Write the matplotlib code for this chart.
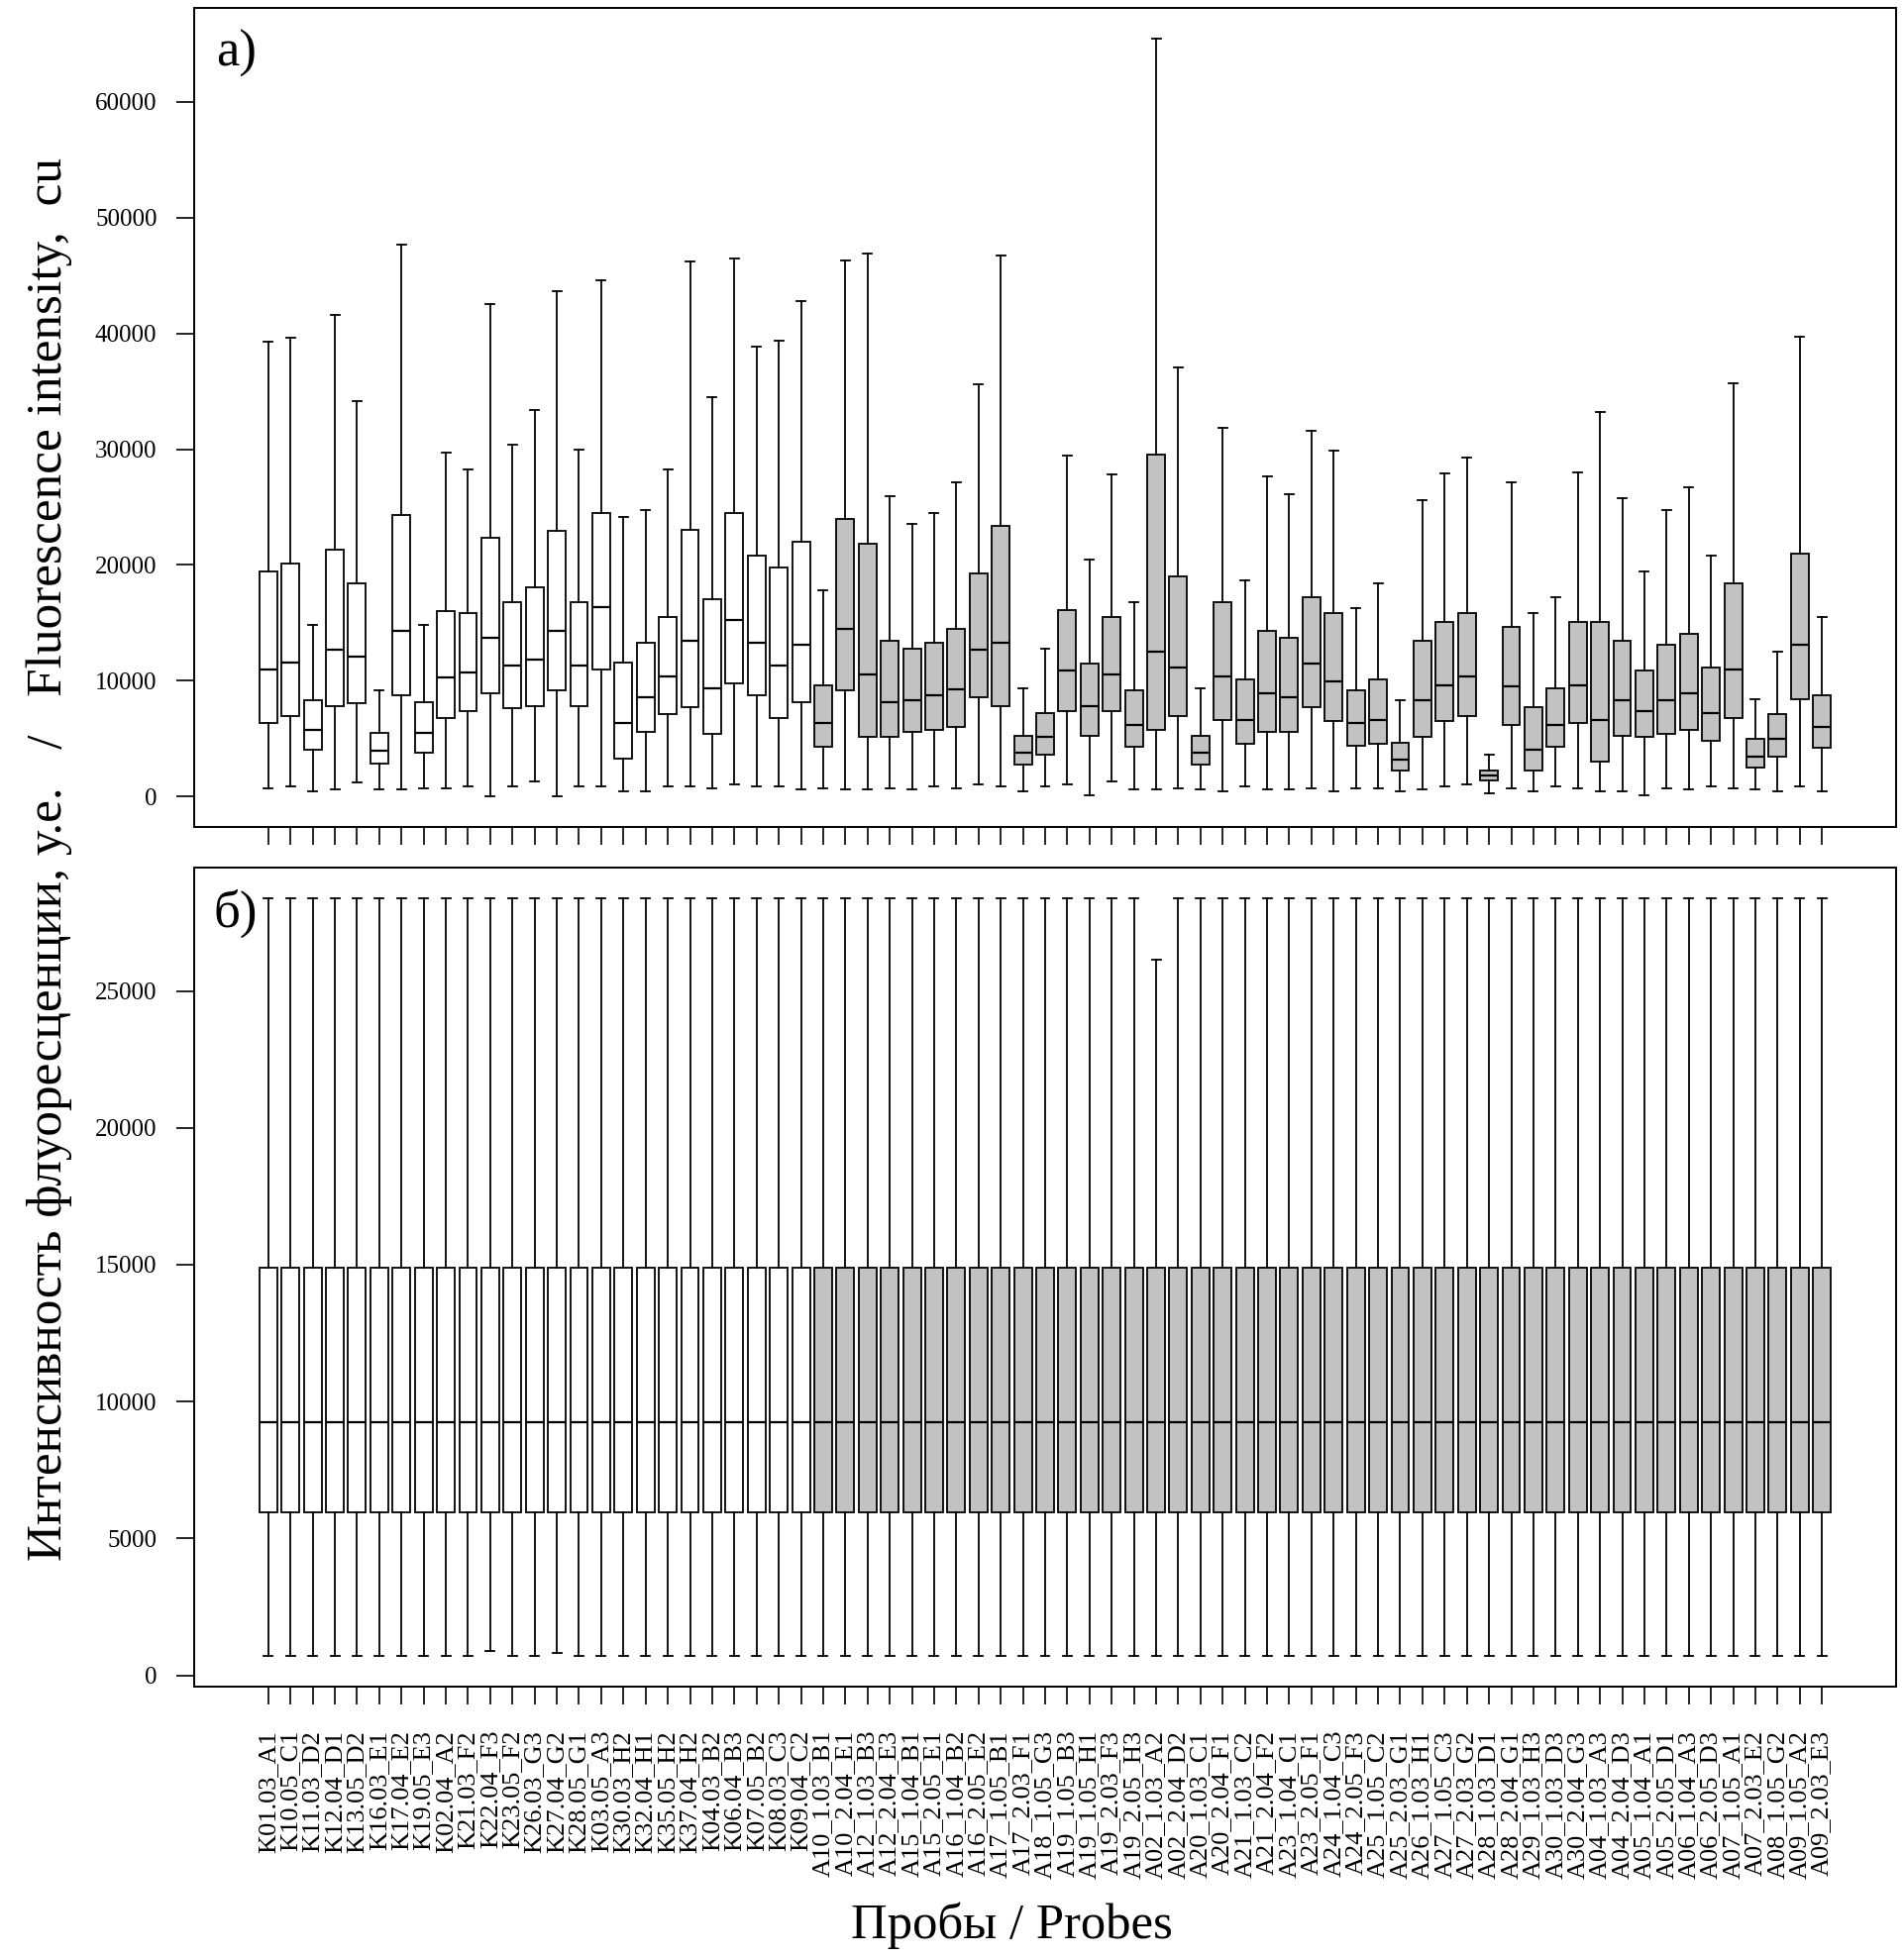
import matplotlib
matplotlib.use("Agg")
import matplotlib.pyplot as plt

plt.rcParams['font.family'] = ['Liberation Serif', 'DejaVu Serif']

# ---------------- data ----------------
probes = [
    "K01.03_A1", "K10.05_C1", "K11.03_D2", "K12.04_D1", "K13.05_D2", "K16.03_E1", "K17.04_E2",
    "K19.05_E3", "K02.04_A2", "K21.03_F2", "K22.04_F3", "K23.05_F2", "K26.03_G3", "K27.04_G2",
    "K28.05_G1", "K03.05_A3", "K30.03_H2", "K32.04_H1", "K35.05_H2", "K37.04_H2", "K04.03_B2",
    "K06.04_B3", "K07.05_B2", "K08.03_C3", "K09.04_C2",
    "A10_1.03_B1", "A10_2.04_E1", "A12_1.03_B3", "A12_2.04_E3", "A15_1.04_B1", "A15_2.05_E1",
    "A16_1.04_B2", "A16_2.05_E2", "A17_1.05_B1", "A17_2.03_F1", "A18_1.05_G3", "A19_1.05_B3",
    "A19_1.05_H1", "A19_2.03_F3", "A19_2.05_H3", "A02_1.03_A2", "A02_2.04_D2", "A20_1.03_C1",
    "A20_2.04_F1", "A21_1.03_C2", "A21_2.04_F2", "A23_1.04_C1", "A23_2.05_F1", "A24_1.04_C3",
    "A24_2.05_F3", "A25_1.05_C2", "A25_2.03_G1", "A26_1.03_H1", "A27_1.05_C3", "A27_2.03_G2",
    "A28_1.03_D1", "A28_2.04_G1", "A29_1.03_H3", "A30_1.03_D3", "A30_2.04_G3", "A04_1.03_A3",
    "A04_2.04_D3", "A05_1.04_A1", "A05_2.05_D1", "A06_1.04_A3", "A06_2.05_D3", "A07_1.05_A1",
    "A07_2.03_E2", "A08_1.05_G2", "A09_1.05_A2", "A09_2.03_E3",
]

# a) raw intensities
raw_whishi = [39260, 39630, 14800, 41620, 34150, 9190, 47700, 14800, 29700, 28210, 42550, 30350,
              33360, 43620, 29980, 44550, 24130, 24730, 28210, 46170, 34520, 46450, 38890, 39400,
              42830,
              17820, 46310, 46910, 25940, 23530, 24450, 27150, 35590, 46730, 9370, 12810, 29420,
              20510, 27800, 16750, 65480, 37080, 9370, 31830, 18700, 27610, 26080, 31550, 29880,
              16290, 18420, 8310, 25610, 27940, 29280, 3620, 27150, 15820, 17220, 28030, 33180,
              25800, 19440, 24730, 26680, 20790, 35730, 8450, 12530, 39680, 15550]
raw_q3 = [19440, 20090, 8310, 21300, 18420, 5480, 24320, 8170, 16010, 15820, 22320, 16750, 18100,
          22920, 16750, 24450, 11600, 13270, 15550, 23060, 17080, 24450, 20840, 19770, 22000,
          9650, 23990, 21860, 13460, 12810, 13320, 14520, 19300, 23390, 5240, 7240, 16150, 11460,
          15550, 9190, 29560, 19030, 5240, 16750, 10120, 14340, 13740, 17220, 15820, 9190, 10120,
          4690, 13460, 15080, 15820, 2270, 14620, 7700, 9370, 15080, 15080, 13460, 10860, 13130,
          14060, 11180, 18420, 4970, 7100, 20970, 8770]
raw_med = [11000, 11600, 5750, 12670, 12110, 3940, 14340, 5480, 10260, 10720, 13740, 11320, 11790,
           14340, 11320, 16330, 6360, 8580, 10390, 13460, 9370, 15270, 13320, 11320, 13130,
           6360, 14520, 10580, 8170, 8310, 8720, 9230, 12670, 13320, 3810, 5150, 10860, 7840,
           10580, 6170, 12530, 11180, 3810, 10390, 6640, 8910, 8580, 11460, 9980, 6360, 6640,
           3200, 8310, 9650, 10390, 1810, 9510, 4080, 6170, 9650, 6640, 8310, 7380, 8310, 8910,
           7240, 11000, 3480, 4970, 13130, 6030]
raw_q1 = [6360, 6960, 4080, 7840, 8030, 2880, 8720, 3760, 6820, 7380, 8910, 7660, 7840, 9190, 7840,
          11000, 3290, 5570, 7100, 7700, 5430, 9790, 8720, 6820, 8170,
          4270, 9190, 5150, 5150, 5570, 5750, 6030, 8580, 7840, 2740, 3620, 7380, 5290, 7380,
          4270, 5750, 6960, 2740, 6640, 4550, 5570, 5570, 7700, 6500, 4410, 4550, 2270, 5150,
          6500, 6960, 1390, 6170, 2270, 4270, 6360, 3060, 5290, 5150, 5430, 5750, 4830, 6820,
          2550, 3480, 8450, 4220]
raw_whislo = [740, 880, 460, 600, 1210, 600, 600, 740, 740, 880, 0, 880, 1350, 0, 880, 880, 460,
              460, 880, 880, 740, 1070, 880, 880, 600,
              740, 600, 600, 740, 600, 880, 740, 1070, 880, 460, 880, 1070, 140, 1350, 600, 600,
              740, 600, 460, 880, 600, 600, 740, 460, 740, 740, 460, 600, 880, 1070, 320, 740,
              460, 880, 740, 460, 460, 140, 740, 600, 880, 740, 600, 460, 880, 460]

# б) normalized intensities
norm_whishi = [28380] * 40 + [26150] + [28380] * 30
norm_q3 = [14890] * 71
norm_med = [9250] * 71
norm_q1 = [5965] * 71
norm_whislo = [710, 710, 710, 710, 710, 710, 710, 710, 710, 710, 890, 710, 710, 800, 710, 710,
               710, 710, 710, 710, 710, 710, 710, 710, 710,
               710, 710, 710, 710, 710, 710, 710, 710, 710, 710, 710, 710, 710, 710, 710, 710,
               710, 710, 710, 710, 710, 710, 710, 710, 710, 710, 710, 710, 710, 710, 710, 710,
               710, 710, 710, 710, 710, 710, 710, 710, 710, 710, 710, 710, 710, 710]

n_control = 25  # K-probes (white), the rest are A-probes (grey)

# ---------------- figure ----------------
W, H = 1922, 1977
fig = plt.figure(figsize=(W / 100, H / 100), dpi=100)

def fx(px):
    return px / W

def fy(py):
    return 1 - py / H

ax1 = fig.add_axes([fx(196), fy(835), fx(1914 - 196), (835 - 8) / H])
ax2 = fig.add_axes([fx(196), fy(1702.5), fx(1914 - 196), (1702.5 - 876.5) / H])

LW = 1.3
GREY = '#C2C2C2'


def draw(ax, lo, q1, med, q3, hi):
    n = len(probes)
    stats = []
    for i in range(n):
        stats.append(dict(whislo=lo[i], q1=q1[i], med=med[i], q3=q3[i], whishi=hi[i],
                          fliers=[], label=probes[i]))
    pos = list(range(1, n + 1))
    bp = ax.bxp(stats, positions=pos, widths=0.8, patch_artist=True, showfliers=False,
                boxprops=dict(linewidth=LW, edgecolor='black'),
                whiskerprops=dict(linewidth=LW, color='black', linestyle='-'),
                capprops=dict(linewidth=LW, color='black'),
                medianprops=dict(linewidth=1.6, color='black'),
                capwidths=0.4)
    for i, b in enumerate(bp['boxes']):
        b.set_facecolor('white' if i < n_control else GREY)
    ax.set_xlim(0.5 - 0.04 * n, n + 0.5 + 0.04 * n)
    allv = lo + hi
    vmin, vmax = min(allv), max(allv)
    r = vmax - vmin
    ax.set_ylim(vmin - 0.04 * r, vmax + 0.04 * r)
    for s in ax.spines.values():
        s.set_linewidth(1.4)
    ax.tick_params(axis='both', length=13, width=1.2, direction='out')
    ax.tick_params(axis='y', labelsize=18, pad=14)
    return pos


pos = draw(ax1, raw_whislo, raw_q1, raw_med, raw_q3, raw_whishi)
ax1.set_yticks([0, 10000, 20000, 30000, 40000, 50000, 60000])
ax1.set_xticks(pos)
ax1.set_xticklabels([])

pos = draw(ax2, norm_whislo, norm_q1, norm_med, norm_q3, norm_whishi)
ax2.set_yticks([0, 5000, 10000, 15000, 20000, 25000])
ax2.set_xticks(pos)
ax2.set_xticklabels(probes, rotation=90, fontsize=19, va='top', ha='center')
ax2.tick_params(axis='x', pad=19)

fig.text(fx(218), fy(67), "a)", fontsize=38, va='baseline', ha='left')
fig.text(fx(215), fy(936), "б)", fontsize=38, va='baseline', ha='left')

fig.text(fx(50), fy(868),
         "Интенсивность флуоресценции, у.е.   /   Fluorescence intensity,  cu",
         rotation=90, fontsize=36.9, ha='center', va='center')
fig.text(fx(1021), fy(1957), "Пробы / Probes", fontsize=36.5, ha='center', va='baseline')

fig.savefig("out.png", dpi=100)
